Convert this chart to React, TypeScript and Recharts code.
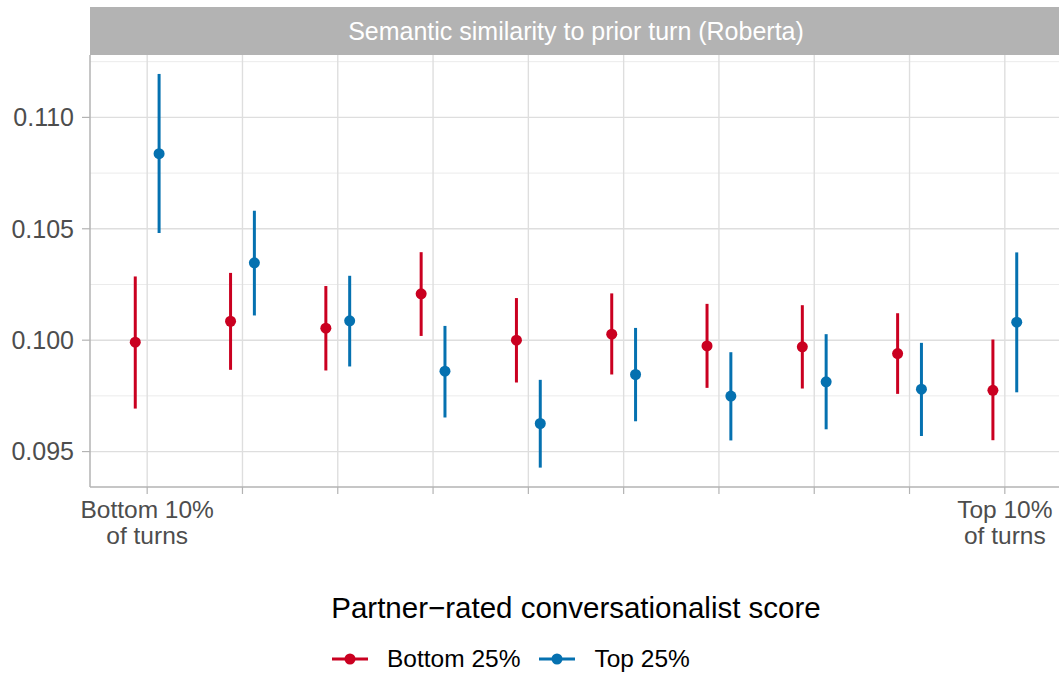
import React from "react";
import {
  ComposedChart,
  Scatter,
  ErrorBar,
  XAxis,
  YAxis,
  CartesianGrid
} from "recharts";

const deciles = [1, 2, 3, 4, 5, 6, 7, 8, 9, 10];

const xLabels = [
  "Bottom 10%|of turns", "", "", "", "", "", "", "", "", "Top 10%|of turns"
];

const bottomMean = [0.09991, 0.10085, 0.10054, 0.10208, 0.1, 0.10027, 0.09974, 0.0997, 0.0994, 0.09775];
const bottomLow = [0.09693, 0.09867, 0.09864, 0.10019, 0.0981, 0.09846, 0.09786, 0.09783, 0.09759, 0.09551];
const bottomHigh = [0.10286, 0.10302, 0.10243, 0.10395, 0.10189, 0.1021, 0.10163, 0.10157, 0.10121, 0.10003];

const topMean = [0.10837, 0.10347, 0.10087, 0.09861, 0.09626, 0.09846, 0.09749, 0.09813, 0.0978, 0.10081];
const topLow = [0.10481, 0.10111, 0.09882, 0.09653, 0.09428, 0.09636, 0.0955, 0.096, 0.0957, 0.09766];
const topHigh = [0.11195, 0.10581, 0.10289, 0.10064, 0.09822, 0.10055, 0.09946, 0.10027, 0.09988, 0.10394];

const yTicks = [0.095, 0.1, 0.105, 0.11];
const yMinor = [0.0975, 0.1025, 0.1075, 0.1125];

const RED = "#CA0020";
const BLUE = "#0571B0";
const FONT = "'Liberation Sans', Arial, sans-serif";

const bottomData = deciles.map((d, i) => ({
  x: d - 0.125,
  y: bottomMean[i],
  err: [bottomMean[i] - bottomLow[i], bottomHigh[i] - bottomMean[i]]
}));

const topData = deciles.map((d, i) => ({
  x: d + 0.125,
  y: topMean[i],
  err: [topMean[i] - topLow[i], topHigh[i] - topMean[i]]
}));

const dot = (color: string) => (props: any) => (
  <circle cx={props.cx} cy={props.cy} r={5.5} fill={color} />
);

const XTick = (props: any) => {
  const { x, y, payload } = props;
  const label = xLabels[deciles.indexOf(payload.value)] || "";
  if (!label) return null;
  const lines = label.split("|");
  return (
    <text x={x} y={y} textAnchor="middle" fill="#4D4D4D" fontSize={24.5} fontFamily={FONT}>
      {lines.map((l, i) => (
        <tspan key={i} x={x} dy={i === 0 ? 22 : 26}>{l}</tspan>
      ))}
    </text>
  );
};

const LegendKey = ({ color }: { color: string }) => (
  <svg width={36} height={14} style={{ display: "block" }}>
    <line x1={0} y1={7} x2={36} y2={7} stroke={color} strokeWidth={3} />
    <circle cx={18} cy={7} r={5.5} fill={color} />
  </svg>
);

export default function App() {
  return (
    <div style={{ position: "absolute", left: 0, top: 0, width: 1059, height: 674, overflow: "hidden", background: "#fff", fontFamily: FONT }}>
      <div style={{
        position: "absolute", left: 90, top: 7, width: 972, height: 48,
        background: "#B3B3B3", color: "#fff", fontSize: 25,
        display: "flex", alignItems: "center", justifyContent: "center"
      }}>
        Semantic similarity to prior turn (Roberta)
      </div>

      <ComposedChart
        width={1062}
        height={560}
        margin={{ top: 55, right: 0, bottom: 0, left: 0 }}
        style={{ position: "absolute", left: 0, top: 0 }}
      >
        <CartesianGrid horizontalValues={yMinor} vertical={false} stroke="#EBEBEB" strokeWidth={1} />
        <CartesianGrid horizontalValues={yTicks} verticalValues={deciles} stroke="#DEDEDE" strokeWidth={1.4} />
        <XAxis
          type="number"
          dataKey="x"
          domain={[0.4, 10.6]}
          ticks={deciles}
          allowDataOverflow
          height={73}
          tickSize={7}
          tickMargin={2}
          tick={<XTick />}
          axisLine={{ stroke: "#B3B3B3", strokeWidth: 1.5 }}
          tickLine={{ stroke: "#B3B3B3", strokeWidth: 1.2 }}
        />
        <YAxis
          type="number"
          dataKey="y"
          domain={[0.09341, 0.1128]}
          ticks={yTicks}
          allowDataOverflow
          width={90}
          tickSize={8}
          tickMargin={8}
          tickFormatter={(v: number) => v.toFixed(3)}
          tick={{ fill: "#4D4D4D", fontSize: 25, fontFamily: FONT }}
          axisLine={{ stroke: "#B3B3B3", strokeWidth: 1.5 }}
          tickLine={{ stroke: "#B3B3B3", strokeWidth: 1.2 }}
        />
        <Scatter data={bottomData} fill={RED} shape={dot(RED)} isAnimationActive={false}>
          <ErrorBar dataKey="err" direction="y" width={0} stroke={RED} strokeWidth={3} isAnimationActive={false} />
        </Scatter>
        <Scatter data={topData} fill={BLUE} shape={dot(BLUE)} isAnimationActive={false}>
          <ErrorBar dataKey="err" direction="y" width={0} stroke={BLUE} strokeWidth={3} isAnimationActive={false} />
        </Scatter>
      </ComposedChart>

      <div style={{ position: "absolute", left: 90, width: 972, top: 590, textAlign: "center", fontSize: 29.5, color: "#000", lineHeight: "36px" }}>
        Partner−rated conversationalist score
      </div>
      <div style={{ position: "absolute", left: 332, top: 645, height: 28, display: "flex", alignItems: "center", fontSize: 24.5, color: "#000" }}>
        <LegendKey color={RED} />
        <span style={{ marginLeft: 19 }}>Bottom 25%</span>
        <span style={{ marginLeft: 19 }}><LegendKey color={BLUE} /></span>
        <span style={{ marginLeft: 19 }}>Top 25%</span>
      </div>
    </div>
  );
}
